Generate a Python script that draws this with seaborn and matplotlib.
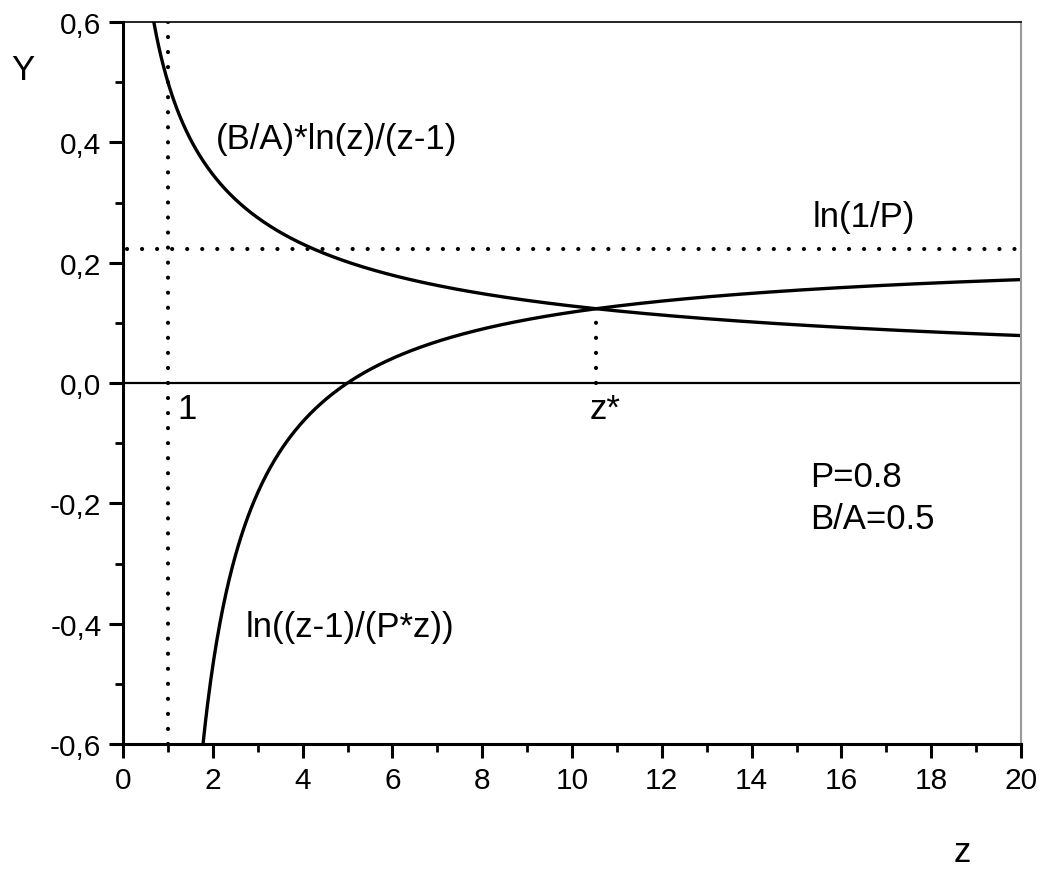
import numpy as np
import pandas as pd
import matplotlib
matplotlib.use("Agg")
import matplotlib.pyplot as plt
from matplotlib.ticker import MultipleLocator, FuncFormatter
import seaborn as sns

# Model parameters shown on the chart
P = 0.8
B_OVER_A = 0.5

# Sample grid for z
z_left = np.linspace(0.6, 20, 800)
z_right = np.linspace(1.7, 20, 800)

# Curves given by the labelled expressions
y_ratio = B_OVER_A * np.log(z_left) / (z_left - 1)
y_log = np.log((z_right - 1) / (P * z_right))
y_level = np.log(1 / P)

curve_a = pd.DataFrame({"z": z_left, "Y": y_ratio})
curve_b = pd.DataFrame({"z": z_right, "Y": y_log})

# Crossing point z* of the two curves
zz = np.linspace(2, 20, 20001)
diff = B_OVER_A * np.log(zz) / (zz - 1) - np.log((zz - 1) / (P * zz))
i = np.where(np.diff(np.sign(diff)) != 0)[0][0]
z_star = zz[i] - diff[i] * (zz[i + 1] - zz[i]) / (diff[i + 1] - diff[i])
y_star = B_OVER_A * np.log(z_star) / (z_star - 1)

sns.set_theme(style="ticks")
plt.rcParams["font.family"] = ["Liberation Sans", "DejaVu Sans"]
plt.rcParams["text.color"] = "black"

fig = plt.figure(figsize=(10.47, 8.7), dpi=100)
ax = fig.add_axes([123 / 1047, 1 - 745 / 870, (1021 - 123) / 1047, (745 - 23) / 870])

lw = 2.4
sns.lineplot(data=curve_a, x="z", y="Y", ax=ax, color="black", lw=lw, sort=False)
sns.lineplot(data=curve_b, x="z", y="Y", ax=ax, color="black", lw=lw, sort=False)

dots = (0, (0.01, 3.6))
dot_kw = dict(color="black", lw=3.0, ls=dots, dash_capstyle="round")
ax.plot([1, 1], [-0.6, 0.6], **dot_kw)
ax.plot([0.1, 20], [y_level, y_level], **dot_kw)
ax.plot([z_star, z_star], [0, y_star], **dot_kw)
ax.axhline(0, color="black", lw=1.6)

ax.set_xlim(0, 20)
ax.set_ylim(-0.6, 0.6)
ax.xaxis.set_major_locator(MultipleLocator(2))
ax.xaxis.set_minor_locator(MultipleLocator(1))
ax.yaxis.set_major_locator(MultipleLocator(0.2))
ax.yaxis.set_minor_locator(MultipleLocator(0.1))


def comma_fmt(v, pos):
    s = f"{v:.1f}".replace(".", ",")
    if s == "-0,0":
        s = "0,0"
    return s


ax.yaxis.set_major_formatter(FuncFormatter(comma_fmt))
ax.xaxis.set_major_formatter(FuncFormatter(lambda v, p: f"{v:.0f}"))

for side in ("left", "bottom"):
    ax.spines[side].set_linewidth(2.2)
    ax.spines[side].set_color("black")
ax.spines["top"].set_linewidth(1.2)
ax.spines["top"].set_color("black")
ax.spines["right"].set_linewidth(1.5)
ax.spines["right"].set_color("#999999")

ax.tick_params(which="major", direction="out", length=10, width=2.2, labelsize=21.5,
               pad=5.5, top=False, right=False, colors="black")
ax.tick_params(which="minor", direction="out", length=5.5, width=2.0,
               top=False, right=False, colors="black")
ax.set_xlabel("")
ax.set_ylabel("")

fs = 25
ax.text(2.07, 0.406, "(B/A)*ln(z)/(z-1)", fontsize=fs, va="center", ha="left")
ax.text(15.35, 0.276, "ln(1/P)", fontsize=fs, va="center", ha="left")
ax.text(1.2, -0.043, "1", fontsize=fs, va="center", ha="left")
ax.text(10.4, -0.043, "z*", fontsize=fs, va="center", ha="left")
ax.text(15.3, -0.156, f"P={P}", fontsize=fs, va="center", ha="left")
ax.text(15.3, -0.226, f"B/A={B_OVER_A}", fontsize=fs, va="center", ha="left")
ax.text(2.74, -0.404, "ln((z-1)/(P*z))", fontsize=fs, va="center", ha="left")

fig.text(23 / 1047, 1 - 70 / 870, "Y", fontsize=fs, ha="center", va="center")
fig.text(962 / 1047, 1 - 853 / 870, "z", fontsize=fs, ha="center", va="center")

fig.savefig("out.png", dpi=100, facecolor="white")
